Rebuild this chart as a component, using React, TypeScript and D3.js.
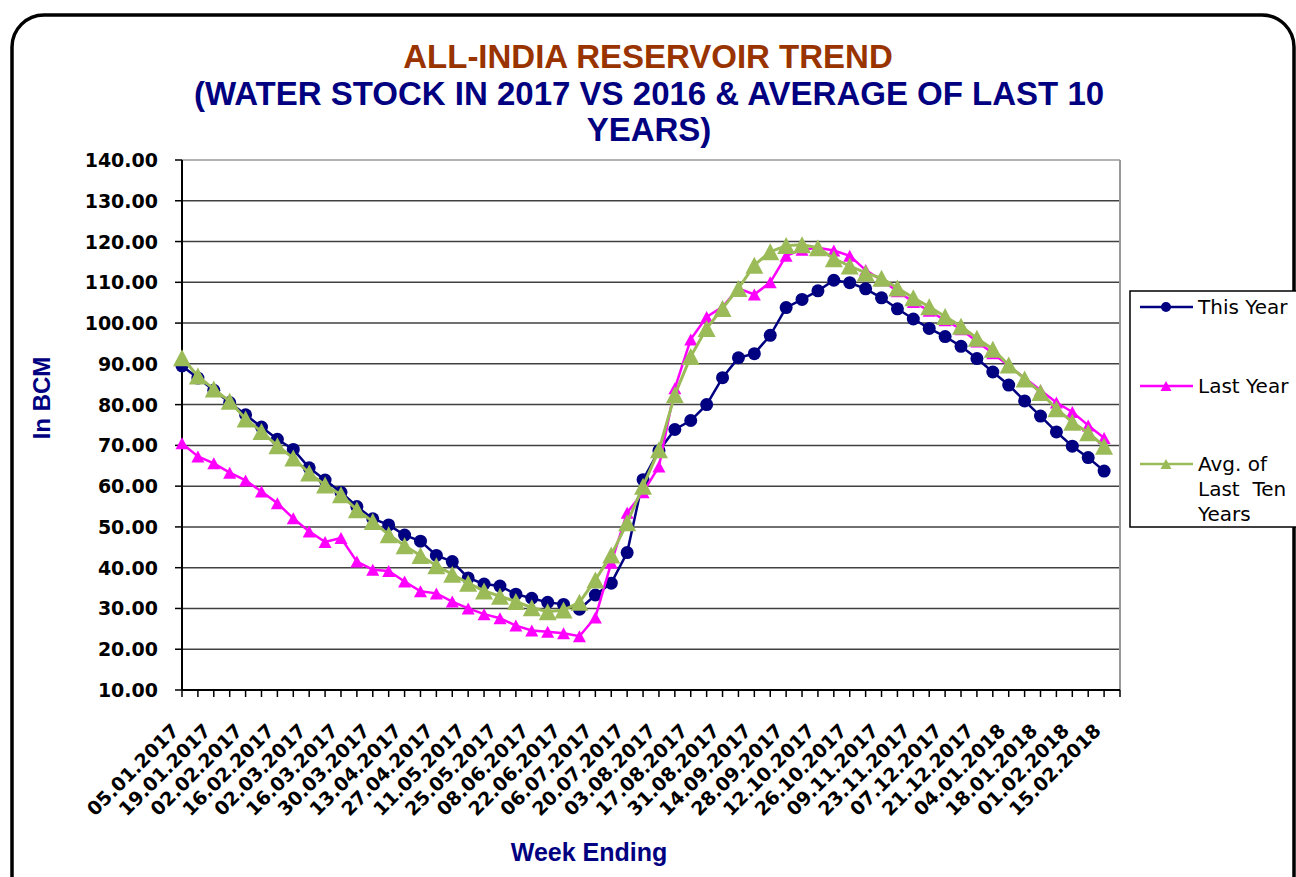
import { scalePoint, scaleLinear, line } from "d3";

const weeks = [
  "05.01.2017", "12.01.2017", "19.01.2017", "26.01.2017",
  "02.02.2017", "09.02.2017", "16.02.2017", "23.02.2017",
  "02.03.2017", "09.03.2017", "16.03.2017", "23.03.2017", "30.03.2017",
  "06.04.2017", "13.04.2017", "20.04.2017", "27.04.2017",
  "04.05.2017", "11.05.2017", "18.05.2017", "25.05.2017",
  "01.06.2017", "08.06.2017", "15.06.2017", "22.06.2017", "29.06.2017",
  "06.07.2017", "13.07.2017", "20.07.2017", "27.07.2017",
  "03.08.2017", "10.08.2017", "17.08.2017", "24.08.2017", "31.08.2017",
  "07.09.2017", "14.09.2017", "21.09.2017", "28.09.2017",
  "05.10.2017", "12.10.2017", "19.10.2017", "26.10.2017",
  "02.11.2017", "09.11.2017", "16.11.2017", "23.11.2017", "30.11.2017",
  "07.12.2017", "14.12.2017", "21.12.2017", "28.12.2017",
  "04.01.2018", "11.01.2018", "18.01.2018", "25.01.2018",
  "01.02.2018", "08.02.2018", "15.02.2018",
];

const thisYear = [
  89.5, 86.5, 83.5, 80.5, 77.5, 74.5, 71.5, 69, 64.5, 61.5,
  58.5, 55, 52, 50.5, 48, 46.5, 43, 41.5, 37.5, 36,
  35.5, 33.5, 32.5, 31.5, 31, 29.8, 33.3, 36.2, 43.7, 61.6,
  68.7, 73.9, 76.1, 80, 86.6, 91.5, 92.5, 97, 103.8, 105.8,
  107.9, 110.5, 109.9, 108.4, 106.2, 103.5, 101, 98.7, 96.7, 94.3,
  91.3, 88, 84.8, 80.9, 77.2, 73.3, 69.8, 67, 63.7,
];

const lastYear = [
  70.5, 67.3, 65.6, 63.3, 61.4, 58.7, 55.8, 52.1, 48.9, 46.3,
  47.3, 41.5, 39.5, 39.2, 36.6, 34.2, 33.7, 31.7, 30, 28.6,
  27.6, 25.8, 24.6, 24.3, 23.9, 23.2, 27.8, 41.2, 53.5, 58.5,
  64.8, 84, 96, 101.5, 104, 108.5, 107, 110, 116.5, 118,
  118.5, 117.8, 116.5, 113, 110.5, 107.8, 105.2, 103, 100.7, 98.5,
  95.5, 92.6, 89.5, 86.5, 83.5, 80.5, 78.2, 74.9, 71.8,
];

const avgTen = [
  91.5, 87, 83.8, 80.8, 76.5, 73.4, 69.9, 66.9, 63.2, 60.3,
  57.9, 54.2, 51.3, 48.1, 45.4, 43, 40.5, 38.4, 36.2, 34.3,
  33, 31.7, 30.2, 29.2, 29.6, 31.5, 37, 43.1, 51, 60,
  68.9, 82.4, 91.8, 98.7, 103.6, 108.5, 114.2, 117.5, 119, 119.2,
  118.5, 115.8, 114, 112.3, 111, 108.6, 106.2, 104, 101.6, 99.2,
  96.3, 93.6, 89.7, 86.3, 83, 79, 75.7, 73.1, 69.8,
];

const yTicks = [10, 20, 30, 40, 50, 60, 70, 80, 90, 100, 110, 120, 130, 140];

const NAVY = "#000080";
const PINK = "#FF00FF";
const GREEN = "#9BBB59";
const AXIS_FONT = "'DejaVu Sans', Verdana, sans-serif";
const ARIAL = "'Liberation Sans', Arial, sans-serif";

const tri = (w: number, h: number) => `M0,${-h / 2}L${w / 2},${h / 2}L${-w / 2},${h / 2}Z`;

export default function App() {
  const plot = { left: 182, right: 1120, top: 160, bottom: 690 };

  // one empty category after the last week, like the sheet
  const cats = [...weeks, ""];
  const x = scalePoint<string>().domain(cats).range([plot.left, plot.right]);
  const y = scaleLinear().domain([10, 140]).range([plot.bottom, plot.top]);

  const mk = (vals: number[]) =>
    line<number>()
      .x((_, i) => x(weeks[i]) as number)
      .y((d) => y(d))(vals) as string;

  const legend = [
    { name: ["This Year"], color: NAVY, cy: 307, kind: "circle" },
    { name: ["Last Year"], color: PINK, cy: 386, kind: "small" },
    { name: ["Avg. of", "Last  Ten", "Years"], color: GREEN, cy: 464, kind: "big" },
  ];

  return (
    <svg width={1296} height={877} style={{ position: "absolute", left: 0, top: 0 }}>
      <rect x={0} y={0} width={1296} height={877} fill="#fff" />
      <rect x={12} y={15} width={1282} height={900} rx={32} fill="#fff" stroke="#000" strokeWidth={3.5} />

      <g fontFamily={ARIAL} fontWeight="bold" textAnchor="middle">
        <text x={648} y={68} fontSize={33} fill="#993300">ALL-INDIA RESERVOIR TREND</text>
        <text x={649} y={105} fontSize={33} fill={NAVY}>(WATER STOCK IN 2017 VS 2016 &amp; AVERAGE OF LAST 10</text>
        <text x={649} y={141} fontSize={33} fill={NAVY}>YEARS)</text>
      </g>

      {/* grid */}
      {yTicks.map((t) => (
        <line key={`g${t}`} x1={plot.left} x2={plot.right} y1={y(t)} y2={y(t)}
          stroke={t === 140 ? "#999" : "#404040"} strokeWidth={1.5} />
      ))}
      <line x1={plot.right} x2={plot.right} y1={plot.top} y2={plot.bottom} stroke="#999" strokeWidth={2} />

      {/* y axis */}
      <line x1={plot.left} x2={plot.left} y1={plot.top} y2={plot.bottom} stroke="#000" strokeWidth={2} />
      {yTicks.map((t) => (
        <g key={`y${t}`}>
          <line x1={plot.left - 7} x2={plot.left} y1={y(t)} y2={y(t)} stroke="#000" strokeWidth={1.5} />
          <text x={158} y={y(t) + 7} textAnchor="end" fontFamily={AXIS_FONT} fontWeight="bold" fontSize={19}>
            {t.toFixed(2)}
          </text>
        </g>
      ))}

      {/* x axis */}
      <line x1={plot.left} x2={plot.right} y1={plot.bottom} y2={plot.bottom} stroke="#000" strokeWidth={2} />
      {cats.map((c, i) => (
        <line key={`xt${i}`} x1={x(c)} x2={x(c)} y1={plot.bottom} y2={plot.bottom + 7} stroke="#000" strokeWidth={1.5} />
      ))}
      {weeks.map((w, i) =>
        i % 2 === 0 ? (
          <text key={`xl${i}`} transform={`translate(${(x(w) as number) - 2},${plot.bottom + 42}) rotate(-45)`}
            textAnchor="end" fontFamily={AXIS_FONT} fontWeight="bold" fontSize={19}>
            {w}
          </text>
        ) : null
      )}

      <text transform="translate(50,398) rotate(-90)" textAnchor="middle" fontFamily={ARIAL}
        fontWeight="bold" fontSize={24} fill={NAVY}>In BCM</text>
      <text x={589} y={861} textAnchor="middle" fontFamily={ARIAL} fontWeight="bold" fontSize={25} fill={NAVY}>
        Week Ending
      </text>

      {/* series */}
      <path d={mk(thisYear)} fill="none" stroke={NAVY} strokeWidth={2.5} />
      {thisYear.map((v, i) => (
        <circle key={`n${i}`} cx={x(weeks[i])} cy={y(v)} r={6.5} fill={NAVY} />
      ))}
      <path d={mk(lastYear)} fill="none" stroke={PINK} strokeWidth={2.5} />
      {lastYear.map((v, i) => (
        <path key={`p${i}`} d={tri(13, 12)} transform={`translate(${x(weeks[i])},${y(v)})`} fill={PINK} />
      ))}
      <path d={mk(avgTen)} fill="none" stroke={GREEN} strokeWidth={3} />
      {avgTen.map((v, i) => (
        <path key={`a${i}`} d={tri(18, 17)} transform={`translate(${x(weeks[i])},${y(v)})`} fill={GREEN} />
      ))}

      {/* legend */}
      <rect x={1130} y={291} width={200} height={236} fill="#fff" stroke="#000" strokeWidth={1.5} />
      {legend.map((l) => (
        <g key={l.name[0]}>
          <line x1={1140} x2={1193} y1={l.cy} y2={l.cy} stroke={l.color} strokeWidth={2.5} />
          {l.kind === "circle" ? (
            <circle cx={1166} cy={l.cy} r={5} fill={l.color} />
          ) : (
            <path d={tri(11, 10)} transform={`translate(1166,${l.cy})`} fill={l.color} />
          )}
          {l.name.map((s, j) => (
            <text key={s} x={1198} y={l.cy + 7 + j * 25} fontFamily={AXIS_FONT} fontSize={20} style={{ whiteSpace: "pre" }}>
              {s}
            </text>
          ))}
        </g>
      ))}
    </svg>
  );
}
